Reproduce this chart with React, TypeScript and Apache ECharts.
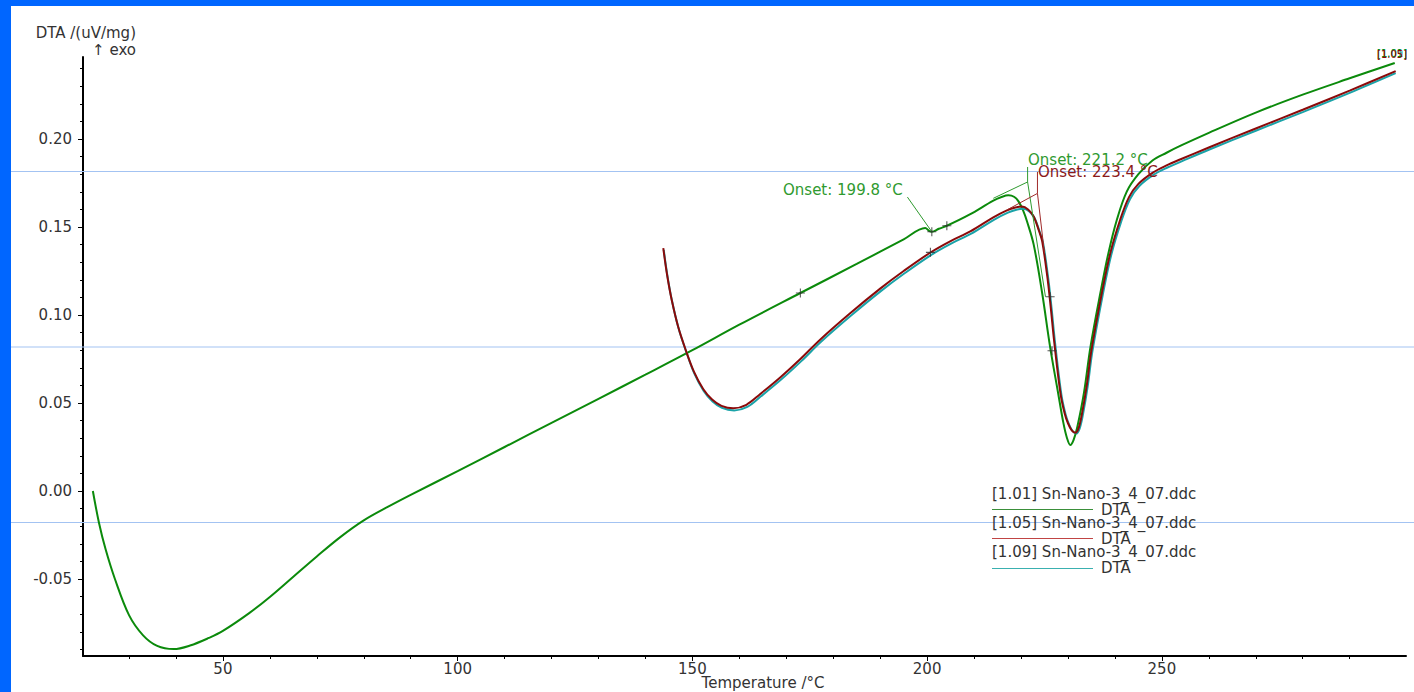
import React, { useEffect, useRef } from "react";
import * as echarts from "echarts";

// ---------- axis ranges & ticks ----------
const xMin = 20.2;
const xMax = 302;
const yMin = -0.09375;
const yMax = 0.2466;
const xMajorTicks = [50, 100, 150, 200, 250];
const xMinorTicks = [30, 40, 60, 70, 80, 90, 110, 120, 130, 140, 160, 170, 180, 190, 210, 220, 230, 240, 260, 270, 280, 290];
const yMajorTicks = [-0.05, 0, 0.05, 0.1, 0.15, 0.2];
const yMinorTicks = [-0.09, -0.08, -0.07, -0.06, -0.04, -0.03, -0.02, -0.01, 0.01, 0.02, 0.03, 0.04, 0.06, 0.07, 0.08, 0.09, 0.11, 0.12, 0.13, 0.14, 0.16, 0.17, 0.18, 0.19, 0.21, 0.22, 0.23, 0.24];

// ---------- series: [temperature °C, DTA uV/mg] ----------
const dta101: [number, number][] = [
  [22.3, 0.0], [23.6, -0.018], [25.0, -0.033], [27.0, -0.05], [30.0, -0.0705], [33.0, -0.082],
  [36.0, -0.088], [39.5, -0.0898], [43.0, -0.0878], [47.0, -0.0835], [50.0, -0.0795], [55.6, -0.0694],
  [60.0, -0.0602], [65.0, -0.0487], [70.0, -0.0372], [75.0, -0.0262], [80.0, -0.0167], [85.0, -0.0092],
  [90.0, -0.0022], [100.0, 0.0113], [110.0, 0.025], [120.0, 0.0387], [130.0, 0.0524], [140.0, 0.0661],
  [150.0, 0.08], [160.0, 0.0945], [173.0, 0.1125], [185.0, 0.129], [195.0, 0.143], [199.6, 0.1495],
  [200.4, 0.1478], [201.0, 0.1473], [202.5, 0.149], [204.2, 0.1507], [209.0, 0.157], [214.1, 0.165],
  [216.0, 0.1672], [217.3, 0.168], [218.5, 0.1672], [219.5, 0.1644], [220.5, 0.159], [221.3, 0.153],
  [222.7, 0.14], [224.5, 0.1125], [226.2, 0.0818], [227.9, 0.0557], [229.0, 0.039], [229.8, 0.03],
  [230.5, 0.0261], [231.2, 0.029], [232.0, 0.0365], [233.4, 0.0557], [234.8, 0.082], [236.9, 0.1125],
  [238.6, 0.135], [240.4, 0.154], [242.5, 0.17], [245.0, 0.18], [248.0, 0.1878], [251.0, 0.1922],
  [254.0, 0.1962], [260.0, 0.2035], [270.0, 0.215], [280.0, 0.2252], [290.0, 0.2345], [299.6, 0.2432],
];

const dta105: [number, number][] = [
  [143.8, 0.138], [144.6, 0.123], [145.6, 0.1085], [147.0, 0.093], [148.6, 0.08], [150.3, 0.068],
  [152.3, 0.058], [154.2, 0.052], [156.2, 0.0484], [158.7, 0.047], [161.5, 0.049], [164.4, 0.055],
  [168.7, 0.0645], [173.0, 0.075], [177.2, 0.086], [183.6, 0.101], [190.0, 0.115], [195.0, 0.125],
  [200.7, 0.1355], [205.0, 0.142], [209.2, 0.1475], [214.1, 0.1555], [217.0, 0.1595], [219.0, 0.1612],
  [220.2, 0.1616], [221.5, 0.16], [222.7, 0.156], [223.8, 0.148], [224.5, 0.142], [225.6, 0.1218],
  [226.3, 0.105], [227.1, 0.084], [228.4, 0.0555], [229.3, 0.044], [230.0, 0.0385], [230.8, 0.0345],
  [231.6, 0.0331], [232.3, 0.036], [233.0, 0.0441], [234.0, 0.06], [235.0, 0.08], [237.2, 0.1123],
  [239.0, 0.135], [241.1, 0.154], [243.0, 0.167], [245.0, 0.1745], [248.0, 0.1808], [251.0, 0.185],
  [254.0, 0.1885], [260.0, 0.1952], [270.0, 0.206], [280.0, 0.2166], [290.0, 0.2275], [299.8, 0.2386],
];

const dta109: [number, number][] = [
  [143.9, 0.137], [144.7, 0.122], [145.7, 0.1075], [147.1, 0.092], [148.7, 0.079], [150.4, 0.0668],
  [152.4, 0.0568], [154.3, 0.0508], [156.3, 0.0472], [158.9, 0.0458], [161.7, 0.0478], [164.6, 0.0538],
  [168.9, 0.0633], [173.2, 0.0738], [177.4, 0.0848], [183.8, 0.0997], [190.2, 0.1137], [195.2, 0.1237],
  [200.9, 0.1342], [205.2, 0.1407], [209.4, 0.1462], [214.3, 0.1542], [217.2, 0.1582], [219.2, 0.16],
  [220.4, 0.1604], [221.7, 0.159], [222.9, 0.155], [224.0, 0.147], [224.7, 0.141], [225.8, 0.1208],
  [226.5, 0.104], [227.3, 0.083], [228.6, 0.0548], [229.5, 0.0435], [230.2, 0.038], [231.0, 0.034],
  [231.8, 0.0327], [232.5, 0.0356], [233.2, 0.0436], [234.2, 0.0594], [235.2, 0.0793], [237.4, 0.1114],
  [239.2, 0.134], [241.3, 0.1528], [243.2, 0.1658], [245.2, 0.1733], [248.2, 0.1796], [251.2, 0.1838],
  [254.2, 0.1873], [260.0, 0.1939], [270.0, 0.2047], [280.0, 0.2153], [290.0, 0.2262], [299.8, 0.2374],
];

// evaluation marks (+)
const crossMarks: [number, number][] = [
  [173.0, 0.1125], [201.0, 0.1473], [204.2, 0.1507], [200.7, 0.1356], [226.2, 0.1104], [226.6, 0.0797],
];

// onset construction lines
const onset1998Leader: [number, number][] = [[195.8, 0.167], [201.0, 0.1473]];
const onset2212Vert: [number, number][] = [[221.4, 0.1841], [221.4, 0.1756]];
const onset2212Base: [number, number][] = [[214.1, 0.1663], [221.4, 0.1756]];
const onset2212Tan: [number, number][] = [[221.4, 0.1756], [225.2, 0.1104]];
const onset2234Vert: [number, number][] = [[223.5, 0.1813], [223.5, 0.1691]];
const onset2234Base: [number, number][] = [[217.0, 0.1597], [223.5, 0.1691]];
const onset2234Tan: [number, number][] = [[223.5, 0.1691], [225.0, 0.135]];

const legendNames = ["[1.01] Sn-Nano-3_4_07.ddc", "[1.05] Sn-Nano-3_4_07.ddc", "[1.09] Sn-Nano-3_4_07.ddc"];
const onsetLabels = ["Onset: 199.8 °C", "Onset: 221.2 °C", "Onset: 223.4 °C"];

const GREEN = "#0b8a0b";
const RED = "#8b0a0a";
const CYAN = "#1aa3a8";
const FONT = "DejaVu Sans";
const TXT = "#333333";

function curve(name: string, data: [number, number][], color: string, z: number) {
  return {
    type: "line",
    name,
    data,
    xAxisIndex: 0,
    yAxisIndex: 0,
    symbol: "none",
    showSymbol: false,
    smooth: 0.35,
    lineStyle: { color, width: 2 },
    z,
    silent: true,
  };
}

function thin(data: [number, number][], color: string) {
  return {
    type: "line",
    data,
    xAxisIndex: 0,
    yAxisIndex: 0,
    symbol: "none",
    showSymbol: false,
    lineStyle: { color, width: 1 },
    z: 4,
    silent: true,
  };
}

function txt(x: number, y: number, text: string, fill: string, align = "left", size = 15) {
  return {
    type: "text",
    x,
    y,
    z: 50,
    style: { text, fill, fontSize: size, fontFamily: FONT, align, verticalAlign: "middle" },
  };
}

function hline(x1: number, x2: number, y: number, stroke: string, z = 1) {
  return { type: "line", z, shape: { x1, y1: y, x2, y2: y }, style: { stroke, lineWidth: 1 } };
}

const baseAxisLabel = { fontFamily: FONT, fontSize: 15, color: TXT };

const option: any = {
  animation: false,
  backgroundColor: "#ffffff",
  grid: { left: 83, right: 8, top: 57, bottom: 36, containLabel: false, outerBoundsMode: "none" },
  xAxis: [
    {
      type: "value",
      min: xMin,
      max: xMax,
      splitLine: { show: false },
      axisLine: { show: true, onZero: false, lineStyle: { color: "#000", width: 2 } },
      axisTick: { show: true, customValues: xMajorTicks, length: 5, lineStyle: { color: "#000", width: 1 } },
      axisLabel: { ...baseAxisLabel, margin: 5, customValues: xMajorTicks, formatter: (v: number) => String(v) },
    },
    {
      type: "value",
      min: xMin,
      max: xMax,
      position: "bottom",
      splitLine: { show: false },
      axisLine: { show: false, onZero: false },
      axisTick: { show: true, customValues: xMinorTicks, length: 3, lineStyle: { color: "#000", width: 1 } },
      axisLabel: { show: false },
    },
  ],
  yAxis: [
    {
      type: "value",
      min: yMin,
      max: yMax,
      splitLine: { show: false },
      axisLine: { show: true, onZero: false, lineStyle: { color: "#000", width: 2 } },
      axisTick: { show: true, customValues: yMajorTicks, length: 5, lineStyle: { color: "#000", width: 1 } },
      axisLabel: { ...baseAxisLabel, margin: 11, customValues: yMajorTicks, formatter: (v: number) => v.toFixed(2) },
    },
    {
      type: "value",
      min: yMin,
      max: yMax,
      position: "left",
      splitLine: { show: false },
      axisLine: { show: false, onZero: false },
      axisTick: { show: true, customValues: yMinorTicks, length: 3, lineStyle: { color: "#000", width: 1 } },
      axisLabel: { show: false },
    },
  ],
  series: [
    curve("1.01 DTA", dta101, GREEN, 3),
    curve("1.09 DTA", dta109, CYAN, 3),
    curve("1.05 DTA", dta105, RED, 3),
    thin(onset1998Leader, "#2f9a2f"),
    thin(onset2212Vert, "#2f9a2f"),
    thin(onset2212Base, "#2f9a2f"),
    thin(onset2212Tan, "#2f9a2f"),
    thin(onset2234Vert, "#a02a2a"),
    thin(onset2234Base, "#a02a2a"),
    thin(onset2234Tan, "#a02a2a"),
    {
      type: "scatter",
      data: crossMarks,
      xAxisIndex: 0,
      yAxisIndex: 0,
      symbol: "path://M4.4,0H5.6V10H4.4Z M0,4.4H10V5.6H0Z",
      symbolSize: 9,
      itemStyle: { color: "#303030" },
      z: 6,
      silent: true,
    },
  ],
  graphic: [
    // horizontal light-blue screen lines
    hline(11, 1414, 171.5, "#a3c3f2"),
    hline(11, 1414, 347, "#a3c3f2"),
    hline(11, 1414, 522.5, "#a3c3f2"),
    // axis titles
    txt(136, 33, "DTA /(uV/mg)", TXT, "right"),
    txt(136, 50, "↑ exo", TXT, "right"),
    txt(763, 683, "Temperature /°C", TXT, "center"),
    // onset labels
    txt(783, 190, onsetLabels[0], "#2f9a2f"),
    txt(1028, 160, onsetLabels[1], "#2f9a2f"),
    txt(1038, 172, onsetLabels[2], "#8b1a1a"),
    // end labels
    txt(1377, 53, "[1.09]", CYAN, "left", 10),
    txt(1377, 53, "[1.01]", GREEN, "left", 10),
    txt(1377, 54, "[1.05]", RED, "left", 10),
    // legend
    txt(992, 494, legendNames[0], TXT),
    txt(1101, 510, "DTA", TXT),
    hline(992, 1093, 509.5, "#3a8f3a", 40),
    txt(992, 523, legendNames[1], TXT),
    txt(1101, 539, "DTA", TXT),
    hline(992, 1093, 538.5, "#c04444", 40),
    txt(992, 552, legendNames[2], TXT),
    txt(1101, 568, "DTA", TXT),
    hline(992, 1093, 568.5, "#3ab0b0", 40),
    // blue window frame
    { type: "rect", z: 100, shape: { x: 0, y: 0, width: 1414, height: 6 }, style: { fill: "#0066ff" } },
    { type: "rect", z: 100, shape: { x: 0, y: 0, width: 11, height: 692 }, style: { fill: "#0066ff" } },
  ],
};

export default function App() {
  const ref = useRef<HTMLDivElement>(null);
  useEffect(() => {
    document.body.style.margin = "0";
    const chart = echarts.init(ref.current as HTMLDivElement, null, { renderer: "svg" });
    chart.setOption(option);
    return () => chart.dispose();
  }, []);
  return <div ref={ref} style={{ width: 1414, height: 692, background: "#fff" }} />;
}
